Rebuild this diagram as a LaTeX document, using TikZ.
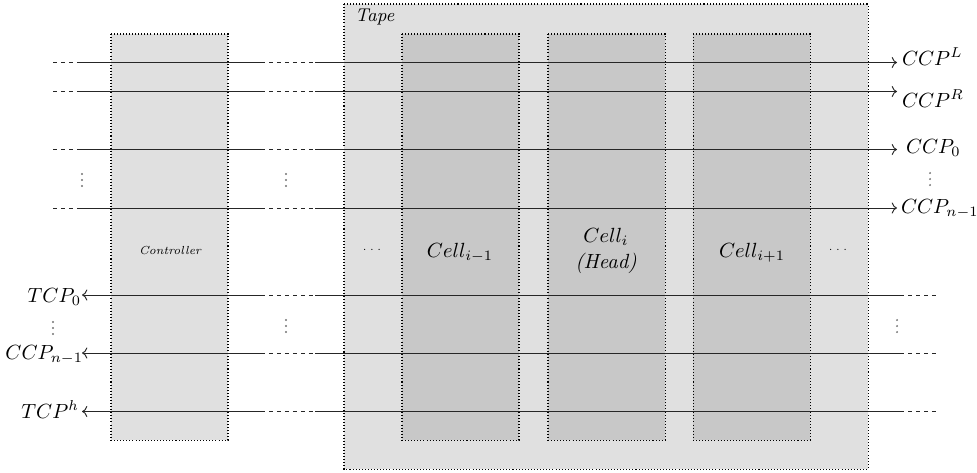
\documentclass[tikz,border=0pt]{standalone}
\usetikzlibrary{arrows.meta}
\definecolor{boxgray}{RGB}{224,224,224}
\definecolor{cellgray}{RGB}{200,200,200}
\begin{document}
\begin{tikzpicture}[x=0.4878pt,y=-0.4878pt,
  outerbox/.style={draw=black,densely dotted,fill=boxgray,line width=0.5pt},
  cellbox/.style={draw=black,densely dotted,fill=cellgray,line width=0.5pt},
  wire/.style={draw=black!85,line width=0.45pt},
  wdash/.style={draw=black!85,line width=0.45pt,dash pattern=on 2pt off 1.9pt},
  lbl/.style={inner sep=0pt,outer sep=0pt},
  vdot/.style={fill=black!55}]
\useasboundingbox (0,0) rectangle (977,472);
% boxes
\path[outerbox] (111,34) coordinate (ctrlNW) rectangle (228,440) coordinate (ctrlSE);
\path[outerbox] (344,4) coordinate (tapeNW) rectangle (868,469) coordinate (tapeSE);
\path[cellbox] (402,34) coordinate (c1NW) rectangle (519,440) coordinate (c1SE);
\path[cellbox] (548,34) coordinate (c2NW) rectangle (665,440) coordinate (c2SE);
\path[cellbox] (693,34) coordinate (c3NW) rectangle (810,440) coordinate (c3SE);
% box texts
\node[lbl,anchor=base west] (tape) at (355,21) {\small\itshape Tape};
\node[lbl] (ctrl) at (170,251) {\fontsize{5.7}{7}\selectfont\itshape Controller};
\node[lbl,anchor=base] (cellA) at (460,257) {$Cell_{i-1}$};
\node[lbl,anchor=base] (cellB) at (606,242) {$Cell_i$};
\node[lbl,anchor=base] (head) at (606,268) {\itshape (Head)};
\node[lbl,anchor=base] (cellC) at (752,257) {$Cell_{i+1}$};
\node[lbl] (dotsL) at (372,250) {\tiny$\cdots$};
\node[lbl] (dotsR) at (838,250) {\tiny$\cdots$};
% right labels
\node[lbl,anchor=base west] (ccpL) at (902,65) {$CCP^L$};
\node[lbl,anchor=base west] (ccpR) at (902,107) {$CCP^R$};
\node[lbl,anchor=base west] (ccp0) at (906,153) {$CCP_0$};
\node[lbl,anchor=base west] (ccpn) at (901,213) {$CCP_{n-1}$};
% left labels
\node[lbl,anchor=base east] (tcp0) at (81,302) {$TCP_0$};
\node[lbl,anchor=base east] (tcpn) at (83,359) {$CCP_{n-1}$};
\node[lbl,anchor=base east] (tcph) at (79,418) {$TCP^h$};
% top wires (to the right)
\foreach \y/\n in {62.5/a,91.5/b,149.5/c,208/d}{
  \coordinate (\n0) at (53,\y);
  \coordinate (\n1) at (80,\y);
  \coordinate (\n2) at (261,\y);
  \coordinate (\n3) at (315,\y);
  \coordinate (\n4) at (897,\y);
  \draw[wdash] (\n0) -- (\n1);
  \draw[wire] (\n1) -- (\n2);
  \draw[wdash] (\n2) -- (\n3);
  \draw[wire,->] (\n3) -- (\n4);
}
% bottom wires (to the left)
\foreach \y/\n in {295/e,353/f,411.5/g}{
  \coordinate (\n0) at (82,\y);
  \coordinate (\n1) at (261,\y);
  \coordinate (\n2) at (315,\y);
  \coordinate (\n3) at (900,\y);
  \coordinate (\n4) at (937,\y);
  \draw[wire,<-] (\n0) -- (\n1);
  \draw[wdash] (\n1) -- (\n2);
  \draw[wire] (\n2) -- (\n3);
  \draw[wdash] (\n3) -- (\n4);
}
% vertical dots
\foreach \x/\y in {82/180,286/180,930/179,53/328,286/326,897/326}{
  \fill[vdot] (\x,\y-6) circle (0.5pt);
  \fill[vdot] (\x,\y) circle (0.5pt);
  \fill[vdot] (\x,\y+6) circle (0.5pt);
}
\end{tikzpicture}
\end{document}
